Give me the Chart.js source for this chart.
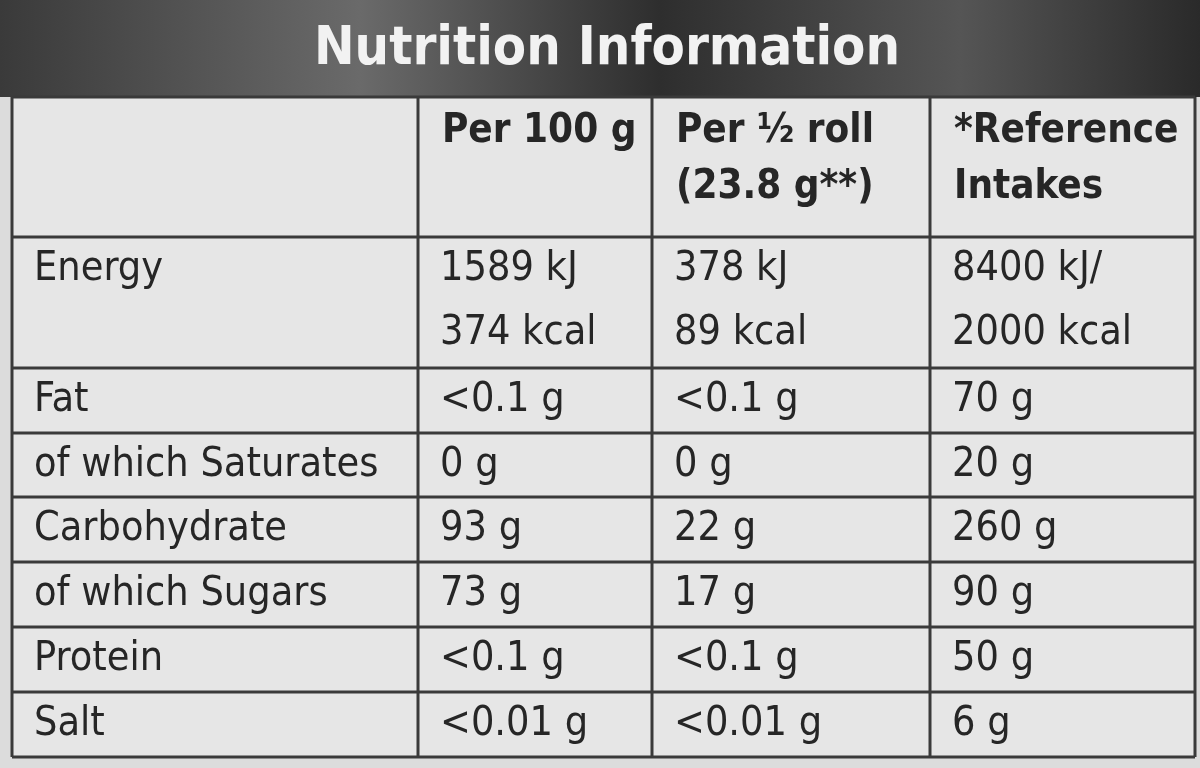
<!DOCTYPE html>
<html><head><meta charset="utf-8">
<script src="https://cdn.jsdelivr.net/npm/chart.js@4/dist/chart.umd.min.js"></script>
<style>html,body{margin:0;padding:0;background:#ddd}#c{display:block}</style>
</head><body>
<canvas id="c" width="1200" height="768"></canvas>
<script>
const title = "Nutrition Information";
const headers = ["", "Per 100 g", "Per ½ roll\n(23.8 g**)", "*Reference\nIntakes"];
const nutrients = ["Energy", "Fat", "of which Saturates", "Carbohydrate", "of which Sugars", "Protein", "Salt"];
const per100 = ["1589 kJ\n374 kcal", "<0.1 g", "0 g", "93 g", "73 g", "<0.1 g", "<0.01 g"];
const perHalf = ["378 kJ\n89 kcal", "<0.1 g", "0 g", "22 g", "17 g", "<0.1 g", "<0.01 g"];
const refIntakes = ["8400 kJ/\n2000 kcal", "70 g", "20 g", "260 g", "90 g", "50 g", "6 g"];

const colEdges = [12, 418, 652, 930, 1195];
const rowEdges = [97, 237, 368, 433, 497, 562, 627, 692, 757];

const tablePlugin = {
  id: 'table',
  beforeDraw(chart) {
    const {ctx, scales:{x, y}} = chart;
    const X = v => x.getPixelForValue(v), Y = v => y.getPixelForValue(v);
    ctx.save();
    ctx.fillStyle = '#dcdcdc'; ctx.fillRect(0,0,chart.width,chart.height);
    const g = ctx.createLinearGradient(0,0,1200,0);
    g.addColorStop(0,'#3a3a3a'); g.addColorStop(0.3,'#6a6a6a'); g.addColorStop(0.55,'#2e2e2e'); g.addColorStop(0.8,'#555'); g.addColorStop(1,'#2a2a2a');
    ctx.fillStyle = g; ctx.fillRect(0, 0, 1200, Y(97));
    ctx.fillStyle = '#e6e6e6';
    ctx.fillRect(X(colEdges[0]), Y(rowEdges[0]), X(colEdges[4])-X(colEdges[0]), Y(rowEdges[8])-Y(rowEdges[0]));
    ctx.fillStyle = '#f2f2f2'; ctx.font = 'bold 54px "DejaVu Sans Condensed", "DejaVu Sans"';
    ctx.textAlign = 'center'; ctx.textBaseline = 'middle';
    ctx.fillText(title, X(607), Y(50));
    ctx.strokeStyle = '#3a3a3a'; ctx.lineWidth = 3;
    rowEdges.forEach(r => { ctx.beginPath(); ctx.moveTo(X(colEdges[0]), Y(r)); ctx.lineTo(X(colEdges[4]), Y(r)); ctx.stroke(); });
    colEdges.forEach(c => { ctx.beginPath(); ctx.moveTo(X(c), Y(rowEdges[0])); ctx.lineTo(X(c), Y(rowEdges[8])); ctx.stroke(); });
    ctx.fillStyle = '#262626'; ctx.textAlign = 'left'; ctx.textBaseline = 'middle';
    ctx.font = 'bold 40px "DejaVu Sans Condensed", "DejaVu Sans"';
    headers.forEach((h, i) => {
      h.split('\n').forEach((line, k) => ctx.fillText(line, X(colEdges[i] + 24), Y(rowEdges[0] + 35 + k*56)));
    });
    ctx.font = '41px "DejaVu Sans Condensed", "DejaVu Sans"';
    const cols = [nutrients, per100, perHalf, refIntakes];
    for (let r = 0; r < nutrients.length; r++) {
      cols.forEach((arr, i) => {
        const lines = arr[r].split('\n');
        lines.forEach((line, k) => {
          const yy = lines.length > 1 || r === 0 ? rowEdges[r+1] + 32 + k*64 : (rowEdges[r+1] + rowEdges[r+2]) / 2;
          ctx.fillText(line, X(colEdges[i] + 22), Y(yy));
        });
      });
    }
    ctx.restore();
  }
};

new Chart(document.getElementById('c'), {
  type: 'scatter',
  data: { datasets: [{ data: [] }] },
  options: {
    responsive: false, animation: false,
    layout: { padding: 0 },
    plugins: { legend: { display: false }, tooltip: { enabled: false } },
    scales: {
      x: { type: 'linear', min: 0, max: 1200, display: false },
      y: { type: 'linear', min: 0, max: 768, reverse: true, display: false }
    }
  },
  plugins: [tablePlugin]
});
</script>
</body></html>
